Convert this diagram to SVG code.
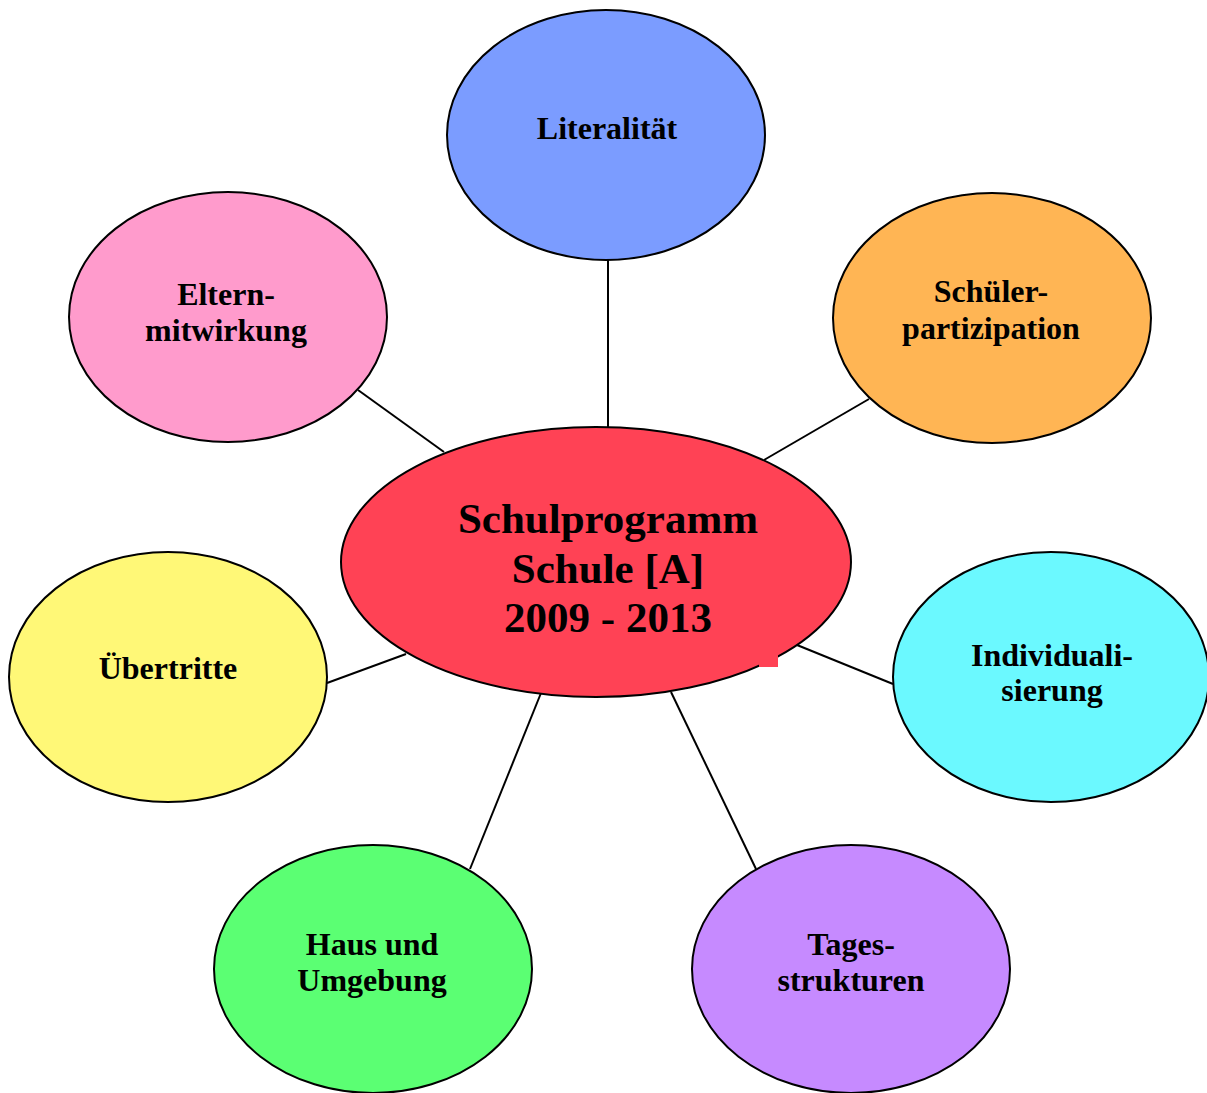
<svg xmlns="http://www.w3.org/2000/svg" width="1207" height="1093" viewBox="0 0 1207 1093">
<style>
.n{stroke:#000;stroke-width:2}
.t{font-family:"Liberation Serif","Times New Roman",serif;font-weight:bold;font-size:32px;text-anchor:middle;fill:#000}
.c{font-size:43px}
#connectors line{stroke:#000;stroke-width:2}
</style>
<rect width="1207" height="1093" fill="#fff"/>
<g id="connectors">
<line x1="608" y1="260" x2="608" y2="428"/>
<line x1="358" y1="390" x2="444" y2="452"/>
<line x1="869" y1="399" x2="764" y2="460"/>
<line x1="327" y1="683" x2="406" y2="654"/>
<line x1="797" y1="645" x2="893" y2="684"/>
<line x1="541" y1="693" x2="470" y2="869"/>
<line x1="671" y1="692" x2="756" y2="869"/>
</g>
<g id="literalitaet"><ellipse class="n" cx="606" cy="135" rx="159" ry="125" fill="#7b9cff"/><text class="t" x="607" y="139">Literalität</text></g>
<g id="schueler"><ellipse class="n" cx="992" cy="318" rx="159" ry="125" fill="#ffb554"/><text class="t" x="991" y="302">Schüler-</text><text class="t" x="991" y="339">partizipation</text></g>
<g id="eltern"><ellipse class="n" cx="228" cy="317" rx="159" ry="125" fill="#ff9bcc"/><text class="t" x="226" y="305">Eltern-</text><text class="t" x="226" y="341">mitwirkung</text></g>
<g id="uebertritte"><ellipse class="n" cx="168" cy="677" rx="159" ry="125" fill="#fff877"/><text class="t" x="168" y="679">Übertritte</text></g>
<g id="individualisierung"><ellipse class="n" cx="1051" cy="677" rx="158" ry="125" fill="#6bf9ff"/><text class="t" x="1052" y="666">Individuali-</text><text class="t" x="1052" y="701">sierung</text></g>
<g id="haus"><ellipse class="n" cx="373" cy="969" rx="159" ry="124" fill="#5bff73"/><text class="t" x="372" y="955">Haus und</text><text class="t" x="372" y="991">Umgebung</text></g>
<g id="tages"><ellipse class="n" cx="851" cy="969" rx="159" ry="124" fill="#c68aff"/><text class="t" x="851" y="955">Tages-</text><text class="t" x="851" y="991">strukturen</text></g>
<g id="center"><ellipse class="n" cx="596" cy="562" rx="255" ry="135" fill="#ff4255"/><rect x="759" y="650" width="19" height="17" fill="#ff4255"/><text class="t c" x="608" y="533">Schulprogramm</text><text class="t c" x="608" y="583">Schule [A]</text><text class="t c" x="608" y="632">2009 - 2013</text></g>
</svg>
